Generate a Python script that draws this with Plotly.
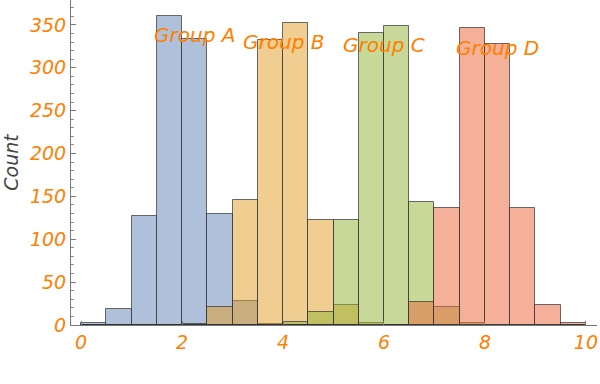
import plotly.graph_objects as go

bin_edges = [i * 0.5 for i in range(21)]
groups = ["Group A", "Group B", "Group C", "Group D"]
counts_A = [2, 19, 127, 360, 333, 129, 28, 1, 0, 0, 0, 0, 0, 0, 0, 0, 0, 0, 0, 0]
counts_B = [0, 0, 0, 0, 1, 21, 146, 332, 352, 122, 23, 2, 0, 0, 0, 0, 0, 0, 0, 0]
counts_C = [0, 0, 0, 0, 0, 0, 0, 0, 3, 15, 122, 340, 349, 143, 21, 2, 0, 0, 0, 0]
counts_D = [0, 0, 0, 0, 0, 0, 0, 0, 0, 0, 0, 0, 0, 27, 136, 346, 328, 137, 23, 2]
label_x = [2.25, 4.0, 6.0, 8.25]
label_y = [338, 330, 327, 323]
x_ticks = [0, 2, 4, 6, 8, 10]
y_ticks = [0, 50, 100, 150, 200, 250, 300, 350]

colors = ["rgba(94,129,181,0.5)", "rgba(225,156,36,0.5)",
          "rgba(143,177,49,0.5)", "rgba(235,98,53,0.5)"]

centers = [(bin_edges[i] + bin_edges[i + 1]) / 2 for i in range(len(bin_edges) - 1)]
widths = [bin_edges[i + 1] - bin_edges[i] for i in range(len(bin_edges) - 1)]

fig = go.Figure()
for name, cnt, col in zip(groups, [counts_A, counts_B, counts_C, counts_D], colors):
    fig.add_trace(go.Bar(
        x=centers, y=cnt, width=widths, name=name,
        marker=dict(color=col, line=dict(color="rgba(50,50,50,0.7)", width=1)),
        showlegend=False, hoverinfo="skip",
    ))

orange = "rgb(255,128,0)"
for name, lx, ly in zip(groups, label_x, label_y):
    fig.add_annotation(x=lx, y=ly, text=f"<i>{name}</i>", showarrow=False,
                       font=dict(family="DejaVu Sans", size=20, color=orange),
                       xanchor="center", yanchor="middle")

fig.update_layout(
    width=600, height=384,
    margin=dict(l=71, r=3, t=0, b=59, autoexpand=False),
    barmode="overlay", bargap=0,
    plot_bgcolor="white", paper_bgcolor="white",
    font=dict(family="DejaVu Sans", size=18, color=orange),
)
fig.update_xaxes(
    range=[-0.2, 10.22], tickvals=x_ticks, ticktext=[f"<i>{v}</i>" for v in x_ticks],
    showgrid=False, zeroline=False, showline=True, linecolor="rgb(120,120,120)", linewidth=1,
    ticks="inside", ticklen=4, tickcolor="rgb(120,120,120)", automargin=False,
    tickfont=dict(family="DejaVu Sans", size=19, color=orange),
)
fig.update_yaxes(
    range=[0, 379], tickvals=y_ticks, ticktext=[f"<i>{v}</i>" for v in y_ticks],
    showgrid=False, zeroline=False, showline=True, linecolor="rgb(120,120,120)", linewidth=1,
    ticks="inside", ticklen=5, tickcolor="rgb(120,120,120)", automargin=False,
    minor=dict(ticks="inside", ticklen=3, dtick=10, tickcolor="rgb(140,140,140)"),
    tickfont=dict(family="DejaVu Sans", size=19, color=orange),
    title=dict(text="<i>Count</i>", font=dict(family="DejaVu Sans", size=19, color="rgb(70,70,70)"), standoff=10),
)

fig.write_html("out.html", config={"displayModeBar": False},
               post_script="document.body.style.margin='0px';")
